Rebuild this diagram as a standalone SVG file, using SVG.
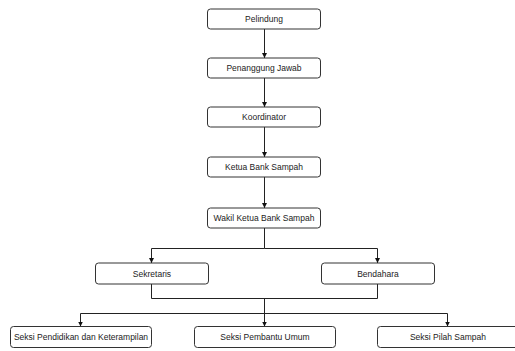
<svg xmlns="http://www.w3.org/2000/svg" width="515" height="351" viewBox="0 0 515 351">
<style>
.box{fill:#fff;stroke:#333;stroke-width:1}
.lbl{font-family:"Liberation Sans",Arial,sans-serif;font-size:8.5px;fill:#222;text-anchor:middle;dominant-baseline:central}
.ln{fill:none;stroke:#222;stroke-width:1}
</style>
<defs>
<marker id="ah" viewBox="0 0 10 10" refX="10" refY="5" markerWidth="5" markerHeight="5" orient="auto" markerUnits="userSpaceOnUse">
<path d="M0,0 L10,5 L0,10 z" fill="#111"/>
</marker>
</defs>
<rect width="515" height="351" fill="#fff"/>
<g id="connectors">
<path class="ln" d="M264.5,29 V58" marker-end="url(#ah)"/>
<path class="ln" d="M264.5,78 V107" marker-end="url(#ah)"/>
<path class="ln" d="M264.5,127 V157" marker-end="url(#ah)"/>
<path class="ln" d="M264.5,177 V208" marker-end="url(#ah)"/>
<path class="ln" d="M264.5,228 V248.5 H151.5 V263" marker-end="url(#ah)"/>
<path class="ln" d="M264.5,248.5 H377.5 V263" marker-end="url(#ah)"/>
<path class="ln" d="M151.5,284 V298.5 H377.5 V284"/>
<path class="ln" d="M264.5,298.5 V326.5" marker-end="url(#ah)"/>
<path class="ln" d="M264.5,313.5 H80.5 V326.5" marker-end="url(#ah)"/>
<path class="ln" d="M264.5,313.5 H447.5 V326.5" marker-end="url(#ah)"/>
</g>
<g id="pelindung"><rect class="box" x="207.5" y="9" width="113" height="20" rx="3"/><text class="lbl" x="264" y="19">Pelindung</text></g>
<g id="penanggung"><rect class="box" x="207.5" y="58" width="113" height="20" rx="3"/><text class="lbl" x="264" y="68">Penanggung Jawab</text></g>
<g id="koordinator"><rect class="box" x="207.5" y="107" width="113" height="20" rx="3"/><text class="lbl" x="264" y="117">Koordinator</text></g>
<g id="ketua"><rect class="box" x="207.5" y="157" width="113" height="20" rx="3"/><text class="lbl" x="264" y="167">Ketua Bank Sampah</text></g>
<g id="wakil"><rect class="box" x="207.5" y="208" width="113" height="20" rx="3"/><text class="lbl" x="264" y="218">Wakil Ketua Bank Sampah</text></g>
<g id="sekretaris"><rect class="box" x="95.5" y="263" width="113" height="21" rx="3"/><text class="lbl" x="152" y="273.5">Sekretaris</text></g>
<g id="bendahara"><rect class="box" x="321.5" y="263" width="113" height="21" rx="3"/><text class="lbl" x="378" y="273.5">Bendahara</text></g>
<g id="pendidikan"><rect class="box" x="10.5" y="326.5" width="141" height="21" rx="3"/><text class="lbl" x="81" y="337">Seksi Pendidikan dan Keterampilan</text></g>
<g id="pembantu"><rect class="box" x="194.5" y="326.5" width="141" height="21" rx="3"/><text class="lbl" x="265" y="337">Seksi Pembantu Umum</text></g>
<g id="pilah"><rect class="box" x="377.5" y="326.5" width="141" height="21" rx="3"/><text class="lbl" x="448" y="337">Seksi Pilah Sampah</text></g>
</svg>
